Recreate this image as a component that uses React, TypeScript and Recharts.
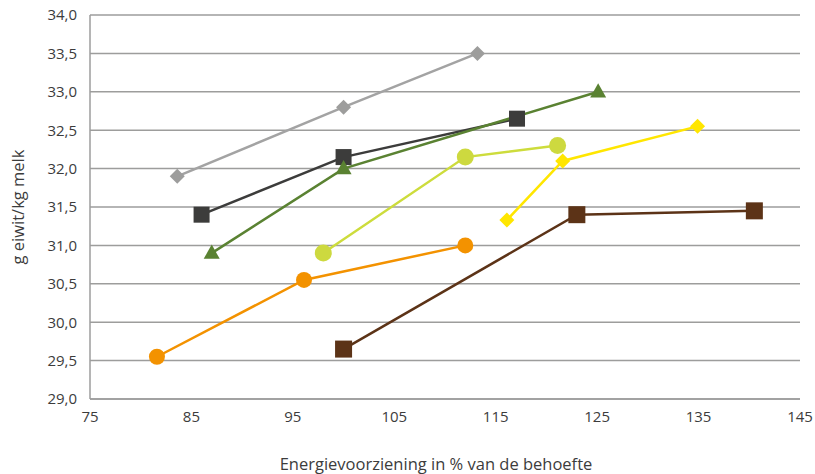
import React from "react";
import { LineChart, Line, XAxis, YAxis, CartesianGrid } from "recharts";

const grijsDiamant = [
  { x: 83.6, y: 31.9 },
  { x: 100, y: 32.8 },
  { x: 113.2, y: 33.5 },
];
const donkerVierkant = [
  { x: 86, y: 31.4 },
  { x: 100, y: 32.15 },
  { x: 117.1, y: 32.65 },
];
const groenDriehoek = [
  { x: 87, y: 30.9 },
  { x: 100, y: 32.0 },
  { x: 125.1, y: 33.0 },
];
const geelgroenCirkel = [
  { x: 98, y: 30.9 },
  { x: 112, y: 32.15 },
  { x: 121.1, y: 32.3 },
];
const geelDiamant = [
  { x: 116.1, y: 31.33 },
  { x: 121.6, y: 32.1 },
  { x: 134.9, y: 32.55 },
];
const oranjeCirkel = [
  { x: 81.6, y: 29.55 },
  { x: 96.1, y: 30.55 },
  { x: 112, y: 31.0 },
];
const bruinVierkant = [
  { x: 100, y: 29.65 },
  { x: 123, y: 31.4 },
  { x: 140.5, y: 31.45 },
];

const xTicks = [75, 85, 95, 105, 115, 125, 135, 145];
const yTicks = [29, 29.5, 30, 30.5, 31, 31.5, 32, 32.5, 33, 33.5, 34];

const xLabel = "Energievoorziening in % van de behoefte";
const yLabel = "g eiwit/kg melk";

const FONT = "'Open Sans', sans-serif";
const TEXT = "#3c3c3c";

const diamond = (color: string, r: number) => (props: any) => {
  const { cx, cy, index } = props;
  if (cx == null || cy == null) return <g key={index} />;
  return (
    <polygon
      key={index}
      points={`${cx},${cy - r} ${cx + r},${cy} ${cx},${cy + r} ${cx - r},${cy}`}
      fill={color}
    />
  );
};
const square = (color: string, s: number) => (props: any) => {
  const { cx, cy, index } = props;
  if (cx == null || cy == null) return <g key={index} />;
  return <rect key={index} x={cx - s / 2} y={cy - s / 2} width={s} height={s} fill={color} />;
};
const triangle = (color: string, s: number) => (props: any) => {
  const { cx, cy, index } = props;
  if (cx == null || cy == null) return <g key={index} />;
  const h = s * 0.9;
  return (
    <polygon
      key={index}
      points={`${cx},${cy - h * 0.6} ${cx + s / 2},${cy + h * 0.4} ${cx - s / 2},${cy + h * 0.4}`}
      fill={color}
    />
  );
};
const circle = (color: string, r: number) => (props: any) => {
  const { cx, cy, index } = props;
  if (cx == null || cy == null) return <g key={index} />;
  return <circle key={index} cx={cx} cy={cy} r={r} fill={color} />;
};

const series = [
  { data: grijsDiamant, color: "#a3a3a3", dot: diamond("#9d9d9c", 7.5) },
  { data: donkerVierkant, color: "#3c3c3b", dot: square("#3c3c3b", 16) },
  { data: groenDriehoek, color: "#5a8232", dot: triangle("#5a8232", 16) },
  { data: geelgroenCirkel, color: "#cddc3c", dot: circle("#cdd93f", 8.5) },
  { data: geelDiamant, color: "#ffe600", dot: diamond("#ffe600", 7.5) },
  { data: oranjeCirkel, color: "#f39200", dot: circle("#f39200", 8) },
  { data: bruinVierkant, color: "#5c3317", dot: square("#5c3317", 17) },
];

export default function App() {
  return (
    <div style={{ position: "absolute", left: 0, top: 0, width: 815, height: 474, background: "#fff" }}>
      <LineChart width={815} height={474} margin={{ top: 15, right: 15, bottom: 0, left: 30 }}>
        <CartesianGrid horizontal={true} vertical={false} stroke="#9d9d9c" strokeWidth={1.5} />
        <XAxis
          dataKey="x"
          type="number"
          domain={[75, 145]}
          ticks={xTicks}
          height={75}
          tickLine={false}
          tickSize={0}
          tickMargin={12}
          axisLine={{ stroke: "#9d9d9c", strokeWidth: 1.5 }}
          tick={{ fill: TEXT, fontSize: 15, fontFamily: FONT }}
          label={{ value: xLabel, position: "insideBottom", offset: 4, dx: -9, fill: TEXT, fontSize: 16.5, fontFamily: FONT }}
        />
        <YAxis
          dataKey="y"
          type="number"
          domain={[29, 34]}
          ticks={yTicks}
          width={60}
          tickLine={false}
          tickSize={0}
          tickMargin={13}
          axisLine={{ stroke: "#9d9d9c", strokeWidth: 1.5 }}
          tickFormatter={(v: number) => v.toFixed(1).replace(".", ",")}
          tick={{ fill: TEXT, fontSize: 15, fontFamily: FONT }}
          label={{ value: yLabel, angle: -90, position: "center", dx: -42, fill: TEXT, fontSize: 16.5, fontFamily: FONT }}
        />
        {series.map((s, i) => (
          <Line
            key={i}
            data={s.data}
            dataKey="y"
            type="linear"
            stroke={s.color}
            strokeWidth={2.5}
            dot={s.dot}
            activeDot={false}
            isAnimationActive={false}
          />
        ))}
      </LineChart>
    </div>
  );
}
